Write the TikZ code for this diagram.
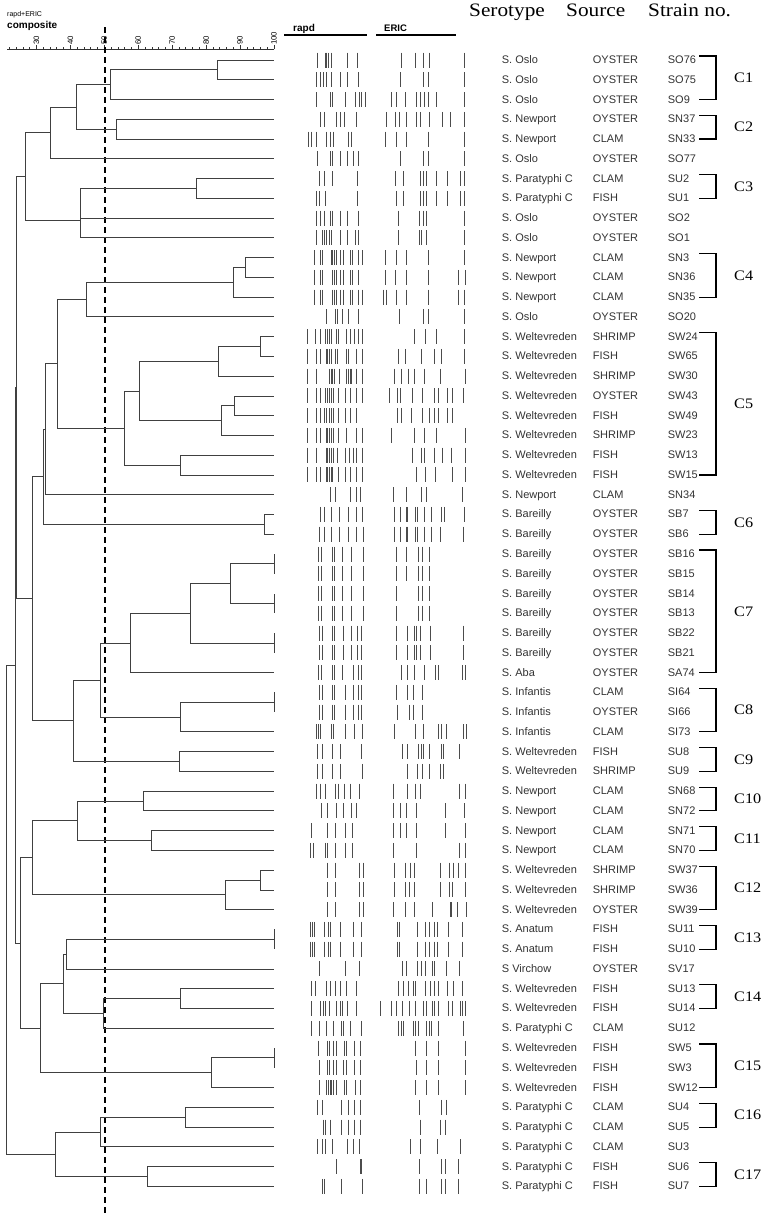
\documentclass[tikz,border=0pt]{standalone}
\usepackage{fontspec}
\setmainfont{Liberation Serif}
\setsansfont{Liberation Sans}
\newfontfamily\hdr[FakeStretch=1.12]{Liberation Serif}
\newfontfamily\sansf{Liberation Sans}
\begin{document}
\begin{tikzpicture}[x=1pt,y=-1pt,
  dend/.style={draw=black!75, line width=0.8pt},
  band/.style={draw=black!70, line width=0.9pt},
  txt/.style={font=\sansf\fontsize{11}{13}\selectfont, text=black!80, inner sep=0, anchor=base west},
  hd/.style={font=\hdr\fontsize{19}{22}\selectfont, inner sep=0, anchor=base west},
  clab/.style={font=\hdr\fontsize{14.5}{16}\selectfont, inner sep=0, anchor=west},
  brk/.style={draw=black, line width=1.1pt},
  axl/.style={font=\sansf\fontsize{7.8}{8}\selectfont, rotate=90, anchor=west, inner sep=0}]
\useasboundingbox (0,0) rectangle (776,1213);
% header
\node[font=\sansf\fontsize{7}{8}\selectfont, anchor=base west, inner sep=0] (t1) at (7,16) {rapd+ERIC};
\node[font=\sansf\bfseries\fontsize{10}{12}\selectfont, anchor=base west, inner sep=0] (t2) at (7,28) {composite};
\node[font=\sansf\bfseries\fontsize{10}{11}\selectfont, anchor=base west, inner sep=0] (t3) at (293,31) {rapd};
\node[font=\sansf\bfseries\fontsize{9.5}{11}\selectfont, anchor=base west, inner sep=0] (t4) at (384,31) {ERIC};
\draw[line width=1.2pt] (284,35) -- (367,35);
\draw[line width=1.2pt] (376,35) -- (456,35);
\node[hd] (h1) at (469,16) {Serotype};
\node[hd] (h2) at (566,16) {Source};
\node[hd] (h3) at (648,16) {Strain no.};
% axis
\draw[black!80, line width=0.9pt] (7,49) -- (274,49);
\foreach \v in {22,24,...,100} \draw[black!80, line width=0.6pt] ({104.3+(\v-50)*3.394},49) -- ++(0,-2);
\foreach \v in {30,40,...,100} {
  \draw[black!80, line width=0.6pt] ({104.3+(\v-50)*3.394},49) -- ++(0,-4);
  \node[axl] (ax\v) at ({104.3+(\v-50)*3.394},45) {\v};
}
% dashed cut-off
\draw[black, line width=1.3pt, dash pattern=on 6pt off 4pt] (105,27) -- (105,1213);
% leaves
\foreach \i in {1,...,58} \coordinate (L\i) at (274,{60+(\i-1)*19.76});
% internal nodes
\coordinate (a1) at (217.7,69.88);
\coordinate (a2) at (110,84.7);
\coordinate (a3) at (116,129.16);
\coordinate (a4) at (76.7,106.93);
\coordinate (a5) at (50.7,132.87);
\coordinate (a6) at (196,188.44);
\coordinate (a7) at (80.7,220);
\coordinate (a8) at (25.7,176.4);
\coordinate (b1) at (245,267.48);
\coordinate (b2) at (233.3,282.3);
\coordinate (b3) at (86.7,299.59);
\coordinate (b4) at (260,346.52);
\coordinate (b5) at (218.3,361.34);
\coordinate (b6) at (234.3,405.8);
\coordinate (b7) at (221.7,420.62);
\coordinate (b8) at (139.3,390.98);
\coordinate (b9) at (180,465.08);
\coordinate (b10) at (124,428.03);
\coordinate (b11) at (57.3,363.81);
\coordinate (b12) at (45.7,429.27);
\coordinate (b13) at (264.3,524.36);
\coordinate (b14) at (43.3,476.81);
\coordinate (c1) at (274,563.88);
\coordinate (c2) at (274,603.4);
\coordinate (c3) at (230,583.64);
\coordinate (c4) at (274,642.92);
\coordinate (c5) at (190,613.28);
\coordinate (c6) at (130,642.92);
\coordinate (c7) at (274,702.2);
\coordinate (c8) at (180,717.02);
\coordinate (c9) at (100,679.97);
\coordinate (c10) at (179.3,761.48);
\coordinate (c11) at (73.3,720.73);
\coordinate (c12) at (32.7,598.77);
\coordinate (r1) at (16.7,387.59);
\coordinate (d1) at (143.3,801);
\coordinate (d2) at (151,840.52);
\coordinate (d3) at (77.3,820.76);
\coordinate (d4) at (260,880.04);
\coordinate (d5) at (225.7,894.86);
\coordinate (d6) at (32.3,857.81);
\coordinate (e1) at (274,939.32);
\coordinate (e2) at (66.7,954.14);
\coordinate (e3) at (180.7,998.6);
\coordinate (e4) at (103.5,1013.42);
\coordinate (e5) at (63.3,983.78);
\coordinate (e6) at (274,1057.88);
\coordinate (e7) at (211,1072.7);
\coordinate (e8) at (40,1028.24);
\coordinate (f1) at (20,943.03);
\coordinate (r2) at (15.7,665.31);
\coordinate (g1) at (185,1117.16);
\coordinate (g2) at (100,1131.98);
\coordinate (g3) at (147.3,1176.44);
\coordinate (g4) at (55,1154.21);
\coordinate (root) at (6.7,909.76);
\foreach \p/\c in {a1/L1,a1/L2,a2/a1,a2/L3,a3/L4,a3/L5,a4/a2,a4/a3,a5/a4,a5/L6,a6/L7,a6/L8,a7/a6,a7/L9,a7/L10,a8/a5,a8/a7,
  b1/L11,b1/L12,b2/b1,b2/L13,b3/b2,b3/L14,b4/L15,b4/L16,b5/b4,b5/L17,b6/L18,b6/L19,b7/b6,b7/L20,b8/b5,b8/b7,b9/L21,b9/L22,b10/b8,b10/b9,b11/b3,b11/b10,b12/b11,b12/L23,b13/L24,b13/L25,b14/b12,b14/b13,
  c1/L26,c1/L27,c2/L28,c2/L29,c3/c1,c3/c2,c4/L30,c4/L31,c5/c3,c5/c4,c6/c5,c6/L32,c7/L33,c7/L34,c8/c7,c8/L35,c9/c6,c9/c8,c10/L36,c10/L37,c11/c9,c11/c10,c12/b14,c12/c11,
  r1/a8,r1/c12,
  d1/L38,d1/L39,d2/L40,d2/L41,d3/d1,d3/d2,d4/L42,d4/L43,d5/d4,d5/L44,d6/d3,d6/d5,
  e1/L45,e1/L46,e2/e1,e2/L47,e3/L48,e3/L49,e4/e3,e4/L50,e5/e2,e5/e4,e6/L51,e6/L52,e7/e6,e7/L53,e8/e5,e8/e7,
  f1/d6,f1/e8,r2/r1,r2/f1,
  g1/L54,g1/L55,g2/g1,g2/L56,g3/L57,g3/L58,g4/g2,g4/g3,root/r2,root/g4}
  \draw[dend] (\p) |- (\c);
% bands
\foreach \r/\L in {
1/{83,105,110,115,125,172,203,333,377,400,418,522},
2/{80,90,100,110,125,150,172,205,330,400,415,522},
3/{80,120,127,167,197,207,215,225,305,320,345,378,390,402,415,440,522},
4/{90,103,140,150,162,200,288,315,328,350,378,392,417,457,480,522},
5/{55,65,78,110,120,130,175,183,285,320,350,415,522},
6/{83,120,127,150,172,190,205,330,400,415,522},
7/{87,103,127,202,315,340,390,400,410,440,473,512,522},
8/{80,88,105,202,320,340,390,400,408,440,473,512,522},
9/{80,90,103,120,127,150,172,205,325,388,400,410,522},
10/{80,97,103,110,118,125,150,172,195,205,325,388,395,410,522},
11/{73,90,97,123,127,132,140,150,160,180,187,205,218,285,320,350,415,522},
12/{73,90,97,127,132,140,150,160,180,187,205,285,315,350,415,505,525},
13/{73,90,97,127,132,140,150,160,180,187,205,218,280,290,318,350,415,505,522},
14/{110,135,142,158,175,205,328,400,415,522},
15/{52,75,90,107,112,117,125,140,145,170,180,192,205,218,373,405,440,522},
16/{52,78,90,108,113,118,125,135,143,170,175,198,218,325,345,395,432,455,522},
17/{52,78,118,123,128,133,148,170,175,180,185,200,218,312,333,355,372,403,450,527},
18/{52,78,90,107,112,117,125,130,145,165,180,198,218,297,322,332,368,398,432,445,472,488,520},
19/{52,78,90,103,110,117,125,130,145,165,180,198,322,335,363,398,418,432,445,472,488},
20/{52,78,90,108,113,118,125,130,145,170,198,218,303,373,403,440,525},
21/{52,80,108,113,118,125,130,143,165,178,190,200,218,367,395,403,432,458,485,525},
22/{52,78,90,108,113,118,123,128,145,165,180,198,218,378,405,435,487,525},
23/{120,135,180,198,212,310,350,395,410,518},
24/{90,102,125,147,175,198,218,313,330,350,353,375,383,403,423,455,462,522},
25/{88,103,123,147,175,198,220,313,330,350,353,375,383,403,423,452,520},
26/{85,95,127,133,158,183,220,318,350,385,398,418},
27/{85,95,127,133,158,183,220,318,350,385,398,418},
28/{85,95,127,133,158,183,220,318,385,398,418},
29/{85,95,127,133,158,183,220,318,385,398,418},
30/{88,97,127,133,160,183,203,213,318,352,373,380,392,420,520},
31/{88,97,127,133,160,183,203,213,318,352,373,380,392,420,520},
32/{85,95,127,133,157,190,205,213,335,353,373,403,435,445,518,525},
33/{88,97,127,133,167,190,205,213,320,353,370,398},
34/{88,97,127,133,167,190,205,213,323,357,370,398},
35/{80,85,92,123,130,167,193,217,313,375,400,445,455,470,520,528},
36/{83,98,128,150,215,337,352,385,393,400,417,453,460,507},
37/{83,98,128,150,218,352,383,397,418,450,460},
38/{78,90,105,137,145,162,182,207,310,352,377,390,508,527},
39/{95,112,140,160,183,198,310,332,350,380,465,523},
40/{65,112,137,165,187,310,332,350,380,465,527},
41/{60,70,107,113,137,165,187,310,380,508,527},
42/{112,137,208,220,313,345,360,373,450,478,490,505,527},
43/{112,137,208,220,313,345,357,373,450,478,488,527},
44/{112,137,208,220,310,345,372,427,480,485,502,528},
45/{62,67,72,102,115,120,152,190,215,322,328,383,407,418,433,443,475,518},
46/{62,67,72,102,115,120,152,190,215,322,328,383,407,418,433,443,475,518},
47/{88,165,208,337,350,383,393,405,428,433,470,508},
48/{65,75,110,120,137,152,170,198,325,340,355,370,375,407,422,432,445,473,490,518},
49/{65,92,100,107,117,138,150,158,172,198,270,303,318,338,357,375,400,410,428,433,445,475,488,512,518,525},
50/{65,88,110,130,153,160,180,215,325,333,340,370,377,385,408,418,425,445,520},
51/{85,112,118,130,140,162,170,193,210,377,410,445,525},
52/{88,112,118,130,140,160,170,193,210,380,410,445,525},
53/{88,110,115,120,125,130,140,162,170,195,210,377,410,445,525},
54/{82,98,155,175,193,210,388,453,470},
55/{100,107,120,155,175,193,210,390,452,467},
56/{82,98,107,127,172,190,207,362,390,442,512},
57/{140,210,215,388,453,465,505},
58/{97,102,153,217,388,410,453,465,505}}
{
  \foreach \z in \L \draw[band] ({290+\z/3},{60+(\r-1)*19.76-7.5}) -- ++(0,15);
}
% text columns
\foreach \i/\s/\o/\n in {
1/S. Oslo/OYSTER/SO76, 2/S. Oslo/OYSTER/SO75, 3/S. Oslo/OYSTER/SO9,
4/S. Newport/OYSTER/SN37, 5/S. Newport/CLAM/SN33, 6/S. Oslo/OYSTER/SO77,
7/S. Paratyphi C/CLAM/SU2, 8/S. Paratyphi C/FISH/SU1, 9/S. Oslo/OYSTER/SO2,
10/S. Oslo/OYSTER/SO1, 11/S. Newport/CLAM/SN3, 12/S. Newport/CLAM/SN36,
13/S. Newport/CLAM/SN35, 14/S. Oslo/OYSTER/SO20, 15/S. Weltevreden/SHRIMP/SW24,
16/S. Weltevreden/FISH/SW65, 17/S. Weltevreden/SHRIMP/SW30, 18/S. Weltevreden/OYSTER/SW43,
19/S. Weltevreden/FISH/SW49, 20/S. Weltevreden/SHRIMP/SW23, 21/S. Weltevreden/FISH/SW13,
22/S. Weltevreden/FISH/SW15, 23/S. Newport/CLAM/SN34, 24/S. Bareilly/OYSTER/SB7,
25/S. Bareilly/OYSTER/SB6, 26/S. Bareilly/OYSTER/SB16, 27/S. Bareilly/OYSTER/SB15,
28/S. Bareilly/OYSTER/SB14, 29/S. Bareilly/OYSTER/SB13, 30/S. Bareilly/OYSTER/SB22,
31/S. Bareilly/OYSTER/SB21, 32/S. Aba/OYSTER/SA74, 33/S. Infantis/CLAM/SI64,
34/S. Infantis/OYSTER/SI66, 35/S. Infantis/CLAM/SI73, 36/S. Weltevreden/FISH/SU8,
37/S. Weltevreden/SHRIMP/SU9, 38/S. Newport/CLAM/SN68, 39/S. Newport/CLAM/SN72,
40/S. Newport/CLAM/SN71, 41/S. Newport/CLAM/SN70, 42/S. Weltevreden/SHRIMP/SW37,
43/S. Weltevreden/SHRIMP/SW36, 44/S. Weltevreden/OYSTER/SW39, 45/S. Anatum/FISH/SU11,
46/S. Anatum/FISH/SU10, 47/S Virchow/OYSTER/SV17, 48/S. Weltevreden/FISH/SU13,
49/S. Weltevreden/FISH/SU14, 50/S. Paratyphi C/CLAM/SU12, 51/S. Weltevreden/FISH/SW5,
52/S. Weltevreden/FISH/SW3, 53/S. Weltevreden/FISH/SW12, 54/S. Paratyphi C/CLAM/SU4,
55/S. Paratyphi C/CLAM/SU5, 56/S. Paratyphi C/CLAM/SU3, 57/S. Paratyphi C/FISH/SU6,
58/S. Paratyphi C/FISH/SU7}
{
  \node[txt] (s\i) at (501.7,{60+(\i-1)*19.76+3.5}) {\s};
  \node[txt] (o\i) at (592.7,{60+(\i-1)*19.76+3.5}) {\o};
  \node[txt] (n\i) at (667.7,{60+(\i-1)*19.76+3.5}) {\n};
}
% cluster brackets
\foreach \lab/\a/\b in {C1/1/3,C2/4/5,C3/7/8,C4/11/13,C5/15/22,C6/24/25,C7/26/32,C8/33/35,C9/36/37,C10/38/39,C11/40/41,C12/42/44,C13/45/46,C14/48/49,C15/51/53,C16/54/55,C17/57/58}
{
  \pgfmathsetmacro\yt{60+(\a-1)*19.76-4}
  \pgfmathsetmacro\yb{60+(\b-1)*19.76}
  \draw[brk] (699,\yt) -- (716,\yt) -- (716,\yb) -- (699,\yb);
  \node[clab] (\lab) at (734,{(\yt+\yb)/2}) {\lab};
}
\end{tikzpicture}
\end{document}
